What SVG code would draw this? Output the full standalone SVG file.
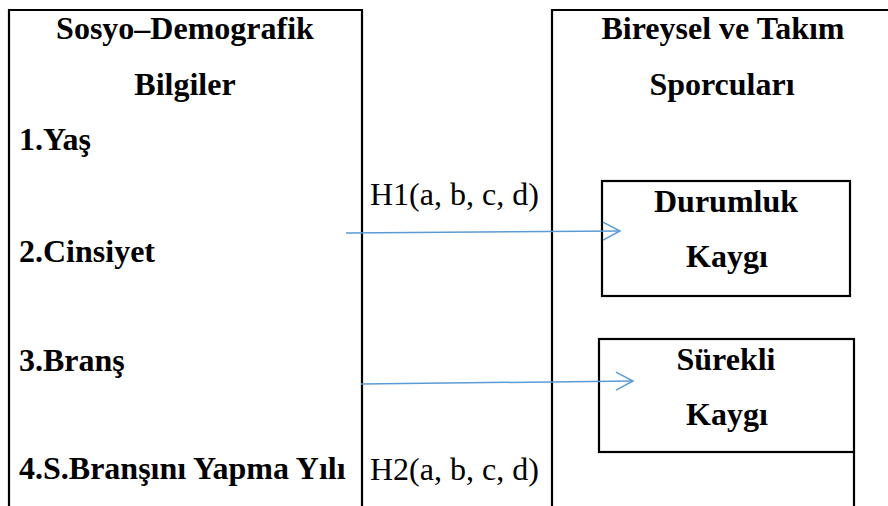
<svg xmlns="http://www.w3.org/2000/svg" width="888" height="506" viewBox="0 0 888 506">
<style>
.b{font-family:"Liberation Serif","Times New Roman",serif;font-weight:bold;font-size:32px;fill:#000}
.n{font-family:"Liberation Serif","Times New Roman",serif;font-weight:normal;font-size:32px;fill:#000}
.c{text-anchor:middle}
.box{fill:none;stroke:#000;stroke-width:2.2}
.ln{fill:none;stroke:#000;stroke-width:2.2}
.arr{fill:none;stroke:#5B9BD5;stroke-width:1.5}
</style>
<defs>
<marker id="ah" markerUnits="userSpaceOnUse" markerWidth="22" markerHeight="24" refX="18" refY="10" orient="auto">
<path d="M1,1 L18,10 L1,19" fill="none" stroke="#5B9BD5" stroke-width="1.5"/>
</marker>
</defs>
<rect width="888" height="506" fill="#fff"/>
<g id="socio">
<path class="ln" d="M9,520 V10 H362 V520"/>
<text class="b c" x="185" y="39">Sosyo–Demografik</text>
<text class="b c" x="185" y="95">Bilgiler</text>
<text class="b" x="19" y="150">1.Yaş</text>
<text class="b" x="19" y="262">2.Cinsiyet</text>
<text class="b" x="19" y="371">3.Branş</text>
<text class="b" x="19" y="479">4.S.Branşını Yapma Yılı</text>
</g>
<g id="sporcular">
<path class="ln" d="M552,520 V10 H900"/>
<path class="ln" d="M854,452 V520"/>
<text class="b c" x="723" y="39">Bireysel ve Takım</text>
<text class="b c" x="722" y="95">Sporcuları</text>
</g>
<g id="durumluk">
<rect class="box" x="602" y="181" width="248" height="115"/>
<text class="b c" x="726" y="212">Durumluk</text>
<text class="b c" x="727" y="267">Kaygı</text>
</g>
<g id="surekli">
<rect class="box" x="599" y="339" width="255" height="113"/>
<text class="b c" x="726" y="370">Sürekli</text>
<text class="b c" x="727" y="425">Kaygı</text>
</g>
<g id="labels">
<text class="n" x="370" y="205">H1(a, b, c, d)</text>
<text class="n" x="370" y="480">H2(a, b, c, d)</text>
</g>
<g id="connectors">
<line class="arr" x1="346" y1="233" x2="620" y2="231" marker-end="url(#ah)"/>
<line class="arr" x1="361" y1="384" x2="633" y2="381" marker-end="url(#ah)"/>
</g>
</svg>
